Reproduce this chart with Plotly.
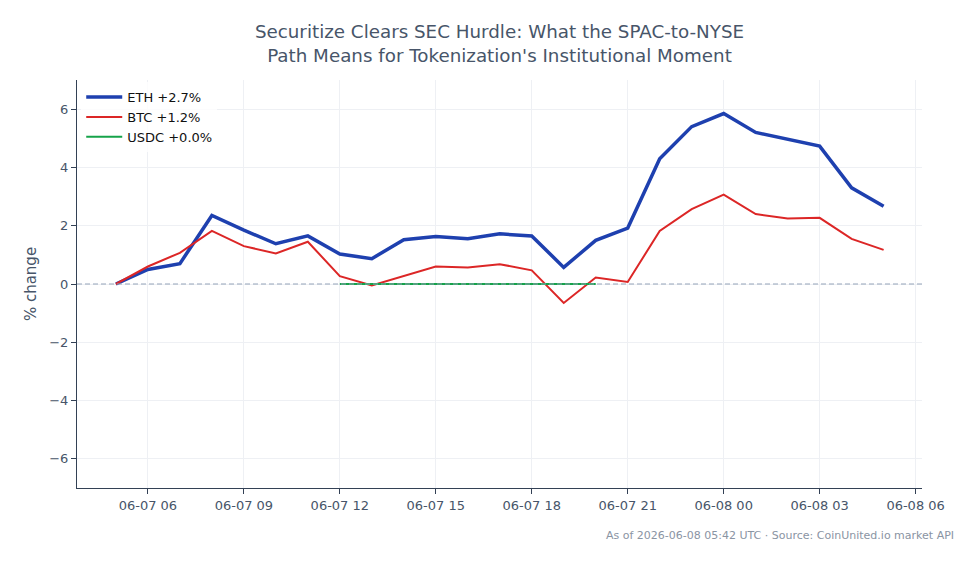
import plotly.graph_objects as go
import pandas as pd

times = pd.date_range("2026-06-07 05:00", "2026-06-08 05:00", freq="h")
eth = [0.0, 0.5, 0.7, 2.35, 1.85, 1.38, 1.65, 1.03, 0.87, 1.52, 1.63, 1.55, 1.72, 1.65,
       0.57, 1.5, 1.92, 4.3, 5.4, 5.85, 5.2, 4.98, 4.73, 3.3, 2.67]
btc = [0.0, 0.6, 1.07, 1.82, 1.3, 1.05, 1.45, 0.27, -0.05, 0.27, 0.6, 0.57, 0.68, 0.47,
       -0.65, 0.22, 0.07, 1.82, 2.57, 3.07, 2.4, 2.25, 2.27, 1.55, 1.17]
usdc = [None] * 7 + [0.0] * 9 + [None] * 9

title_text = "Securitize Clears SEC Hurdle: What the SPAC-to-NYSE<br>Path Means for Tokenization's Institutional Moment"
note = "As of 2026-06-08 05:42 UTC · Source: CoinUnited.io market API"

FONT = "DejaVu Sans"
fig = go.Figure()
fig.add_hline(y=0, line=dict(color="#94a3b8", width=1, dash="5px,3px"))
fig.add_trace(go.Scatter(x=times, y=eth, mode="lines", name="ETH +2.7%",
                         line=dict(color="#1e40af", width=3.5)))
fig.add_trace(go.Scatter(x=times, y=btc, mode="lines", name="BTC +1.2%",
                         line=dict(color="#dc2626", width=2)))
fig.add_trace(go.Scatter(x=times, y=usdc, mode="lines", name="USDC +0.0%",
                         line=dict(color="#16a34a", width=2), connectgaps=False))

fig.update_layout(
    width=979, height=564,
    paper_bgcolor="white", plot_bgcolor="white",
    margin=dict(l=77, r=57, t=80, b=76),
    font=dict(family=FONT, color="#475569", size=13),
    title=dict(text=title_text, x=0.5, xref="paper", xanchor="center",
               yref="container", y=0.933, yanchor="middle",
               font=dict(family=FONT, size=18.3, color="#475569")),
    showlegend=True,
    legend=dict(x=0.005, y=0.995, xanchor="left", yanchor="top",
                bgcolor="rgba(255,255,255,0.8)", font=dict(size=13, color="#111111"),
                tracegroupgap=0, itemwidth=36),
    xaxis=dict(
        range=["2026-06-07 03:47", "2026-06-08 06:12"],
        tickformat="%m-%d %H", dtick=3 * 3600 * 1000,
        tick0="2026-06-07 00:00",
        showgrid=True, gridcolor="#eef0f4", gridwidth=1,
        showline=True, linecolor="#334155", linewidth=1,
        ticks="outside", ticklen=5, tickcolor="#334155",
        tickfont=dict(size=13, color="#475569"), zeroline=False,
    ),
    yaxis=dict(
        range=[-7, 7], dtick=2,
        title=dict(text="% change", font=dict(size=15, color="#475569"), standoff=8),
        automargin=True,
        showgrid=True, gridcolor="#eef0f4", gridwidth=1,
        showline=True, linecolor="#334155", linewidth=1,
        ticks="outside", ticklen=5, tickcolor="#334155",
        tickfont=dict(size=13, color="#475569"), zeroline=False,
    ),
    annotations=[dict(text=note, xref="paper", yref="paper", x=1.04, y=-0.095,
                      xanchor="right", yanchor="top", showarrow=False,
                      font=dict(size=11, color="#8a94a3"))],
)

fig.write_html("out.html")
